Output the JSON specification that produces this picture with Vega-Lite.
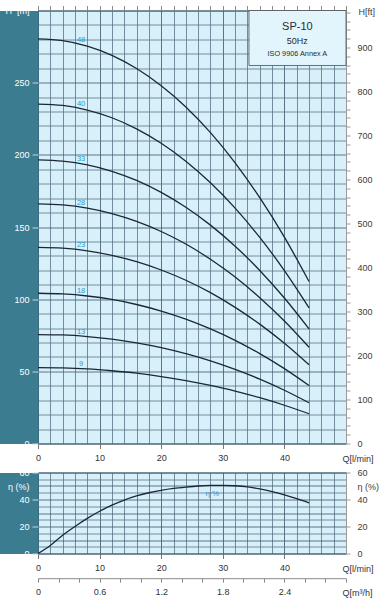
{
  "$schema": "https://vega.github.io/schema/vega-lite/v6.json",
  "background": "white",
  "padding": {"left": 4, "top": 4.5, "right": 0, "bottom": 0},
  "config": {
    "font": "Liberation Sans",
    "view": {"fill": "#d8f0fa", "stroke": "#4a6576", "strokeWidth": 1},
    "axis": {"labelFont": "Liberation Sans", "titleFont": "Liberation Sans", "labelFontSize": 9, "titleFontSize": 9, "titleFontWeight": "normal", "labelFlush": false, "labelOverlap": false}
  },
  "datasets": {
    "curves": [
      {"n":48,"Q":0,"H":280.3},{"n":48,"Q":4,"H":279.1},{"n":48,"Q":8,"H":275.3},{"n":48,"Q":12,"H":268.9},{"n":48,"Q":16,"H":259.8},{"n":48,"Q":20,"H":247.9},{"n":48,"Q":24,"H":233.2},{"n":48,"Q":28,"H":215.4},{"n":48,"Q":32,"H":194.5},{"n":48,"Q":36,"H":170.3},{"n":48,"Q":40,"H":143.0},{"n":48,"Q":44,"H":112.2},
      {"n":40,"Q":0,"H":235.2},{"n":40,"Q":4,"H":234.2},{"n":40,"Q":8,"H":231.0},{"n":40,"Q":12,"H":225.7},{"n":40,"Q":16,"H":218.0},{"n":40,"Q":20,"H":208.0},{"n":40,"Q":24,"H":195.6},{"n":40,"Q":28,"H":180.6},{"n":40,"Q":32,"H":163.1},{"n":40,"Q":36,"H":142.8},{"n":40,"Q":40,"H":119.8},{"n":40,"Q":44,"H":94.0},
      {"n":33,"Q":0,"H":196.5},{"n":33,"Q":4,"H":195.6},{"n":33,"Q":8,"H":193.0},{"n":33,"Q":12,"H":188.6},{"n":33,"Q":16,"H":182.3},{"n":33,"Q":20,"H":174.0},{"n":33,"Q":24,"H":163.7},{"n":33,"Q":28,"H":151.3},{"n":33,"Q":32,"H":136.7},{"n":33,"Q":36,"H":119.9},{"n":33,"Q":40,"H":100.8},{"n":33,"Q":44,"H":79.4},
      {"n":28,"Q":0,"H":166.0},{"n":28,"Q":4,"H":165.3},{"n":28,"Q":8,"H":163.1},{"n":28,"Q":12,"H":159.3},{"n":28,"Q":16,"H":153.9},{"n":28,"Q":20,"H":146.9},{"n":28,"Q":24,"H":138.2},{"n":28,"Q":28,"H":127.6},{"n":28,"Q":32,"H":115.3},{"n":28,"Q":36,"H":101.0},{"n":28,"Q":40,"H":84.9},{"n":28,"Q":44,"H":66.7},
      {"n":23,"Q":0,"H":135.9},{"n":23,"Q":4,"H":135.3},{"n":23,"Q":8,"H":133.5},{"n":23,"Q":12,"H":130.4},{"n":23,"Q":16,"H":126.0},{"n":23,"Q":20,"H":120.2},{"n":23,"Q":24,"H":113.1},{"n":23,"Q":28,"H":104.5},{"n":23,"Q":32,"H":94.3},{"n":23,"Q":36,"H":82.7},{"n":23,"Q":40,"H":69.4},{"n":23,"Q":44,"H":54.5},
      {"n":18,"Q":0,"H":104.1},{"n":18,"Q":4,"H":103.6},{"n":18,"Q":8,"H":102.2},{"n":18,"Q":12,"H":99.8},{"n":18,"Q":16,"H":96.3},{"n":18,"Q":20,"H":91.8},{"n":18,"Q":24,"H":86.2},{"n":18,"Q":28,"H":79.4},{"n":18,"Q":32,"H":71.5},{"n":18,"Q":36,"H":62.3},{"n":18,"Q":40,"H":51.9},{"n":18,"Q":44,"H":40.2},
      {"n":13,"Q":0,"H":75.5},{"n":13,"Q":4,"H":75.2},{"n":13,"Q":8,"H":74.1},{"n":13,"Q":12,"H":72.3},{"n":13,"Q":16,"H":69.7},{"n":13,"Q":20,"H":66.4},{"n":13,"Q":24,"H":62.2},{"n":13,"Q":28,"H":57.2},{"n":13,"Q":32,"H":51.3},{"n":13,"Q":36,"H":44.6},{"n":13,"Q":40,"H":36.9},{"n":13,"Q":44,"H":28.2},
      {"n":9,"Q":0,"H":52.6},{"n":9,"Q":4,"H":52.4},{"n":9,"Q":8,"H":51.7},{"n":9,"Q":12,"H":50.4},{"n":9,"Q":16,"H":48.7},{"n":9,"Q":20,"H":46.4},{"n":9,"Q":24,"H":43.6},{"n":9,"Q":28,"H":40.2},{"n":9,"Q":32,"H":36.3},{"n":9,"Q":36,"H":31.7},{"n":9,"Q":40,"H":26.5},{"n":9,"Q":44,"H":20.6}
    ],
    "labels": [
      {"n":"48","Q":7,"H":276.5},{"n":"40","Q":7,"H":232.0},{"n":"33","Q":7,"H":193.9},{"n":"28","Q":7,"H":163.8},
      {"n":"23","Q":7,"H":134.1},{"n":"18","Q":7,"H":102.7},{"n":"13","Q":7,"H":74.4},{"n":"9","Q":7,"H":51.9}
    ],
    "eta": [
      {"Q":0,"eta":0},{"Q":2,"eta":6},{"Q":4,"eta":13.5},{"Q":6,"eta":20},{"Q":8,"eta":26},{"Q":10,"eta":31.3},{"Q":12,"eta":35.8},{"Q":14,"eta":39.6},{"Q":16,"eta":42.6},{"Q":18,"eta":45.0},{"Q":20,"eta":46.8},{"Q":22,"eta":48.2},{"Q":24,"eta":49.2},{"Q":26,"eta":50.0},{"Q":28,"eta":50.4},{"Q":30,"eta":50.5},{"Q":32,"eta":50.2},{"Q":34,"eta":49.4},{"Q":36,"eta":47.8},{"Q":38,"eta":45.8},{"Q":40,"eta":43.4},{"Q":42,"eta":40.6},{"Q":44,"eta":37.5}
    ],
    "one": [{}]
  },
  "bounds": "flush",
  "spacing": 29,
  "vconcat": [
    {
      "width": 308,
      "height": 433,
      "resolve": {"scale": {"y": "independent"}, "axis": {"x": "independent", "y": "independent"}},
      "layer": [
        {
          "data": {"name": "curves"},
          "mark": {"type": "line", "interpolate": "monotone", "color": "#1a2738", "strokeWidth": 1.3},
          "encoding": {
            "x": {"field": "Q", "type": "quantitative", "scale": {"domain": [0, 50], "nice": false},
              "axis": {"orient": "top", "values": [0,2,4,6,8,10,12,14,16,18,20,22,24,26,28,30,32,34,36,38,40,42,44,46,48,50], "labels": false, "domain": false, "grid": false, "tickSize": 5, "tickColor": "#8c8c8c", "title": null}},
            "y": {"field": "H", "type": "quantitative", "scale": {"domain": [0, 300], "nice": false},
              "axis": {"orient": "left", "offset": 19.5, "domainWidth": 39, "domainColor": "#3b7c90", "ticks": false, "labels": false, "grid": false, "title": null}},
            "detail": {"field": "n", "type": "nominal"}
          }
        },
        {
          "data": {"name": "labels"},
          "mark": {"type": "text", "fontSize": 7.5, "color": "#2b9bd1", "align": "center", "baseline": "alphabetic", "dy": -2.5},
          "encoding": {
            "x": {"field": "Q", "type": "quantitative", "scale": {"domain": [0, 50], "nice": false},
              "axis": {"orient": "bottom", "values": [0,2,4,6,8,10,12,14,16,18,20,22,24,26,28,30,32,34,36,38,40,42,44,46,48,50],
                "grid": true, "gridColor": {"condition": {"test": "datum.value % 10 === 0", "value": "#3a5568"}, "value": "#587587"}, "gridWidth": 0.8,
                "domain": false, "tickSize": 5, "tickColor": "#777777",
                "tickOpacity": {"condition": {"test": "datum.value % 10 === 0 && datum.value < 50", "value": 1}, "value": 0},
                "labelExpr": "datum.value % 10 === 0 && datum.value < 50 ? datum.label : ''",
                "labelPadding": 5, "labelColor": "#333333",
                "title": "Q[l/min]", "titleX": 304, "titleY": 15, "titleAlign": "left", "titleBaseline": "middle", "titleColor": "#333333"}},
            "y": {"field": "H", "type": "quantitative", "scale": {"domain": [0, 300], "nice": false},
              "axis": {"orient": "left", "values": [0,10,20,30,40,50,60,70,80,90,100,110,120,130,140,150,160,170,180,190,200,210,220,230,240,250,260,270,280,290,300],
                "grid": true, "gridColor": {"condition": {"test": "datum.value % 50 === 0", "value": "#3a5568"}, "value": "#587587"}, "gridWidth": 0.8,
                "domain": false, "tickSize": 6, "tickColor": "#c8d4da",
                "tickOpacity": {"condition": {"test": "datum.value % 50 === 0 && datum.value < 300", "value": 1}, "value": 0},
                "labelExpr": "datum.value === 300 ? 'H\u00a0 [m]' : (datum.value % 50 === 0 ? datum.label : '')",
                "labelPadding": 3, "labelColor": "white", "title": null}},
            "text": {"field": "n", "type": "nominal"}
          }
        },
        {
          "data": {"name": "one"},
          "mark": {"type": "rect", "fill": "#e3f5fc", "stroke": "#4d4d4d", "strokeWidth": 0.8},
          "encoding": {
            "x": {"datum": 34.25, "type": "quantitative", "scale": {"domain": [0, 50], "nice": false}, "axis": null},
            "x2": {"datum": 50},
            "y": {"datum": 261.9, "type": "quantitative", "scale": {"domain": [0, 300], "nice": false}, "axis": null},
            "y2": {"datum": 300}
          }
        },
        {
          "data": {"name": "one"},
          "mark": {"type": "text", "text": "SP-10", "fontSize": 11, "color": "#2a2a2a", "align": "center", "baseline": "middle"},
          "encoding": {
            "x": {"datum": 42.1, "type": "quantitative", "scale": {"domain": [0, 50], "nice": false}, "axis": null},
            "y": {"datum": 288.9, "type": "quantitative", "scale": {"domain": [0, 300], "nice": false}, "axis": null}
          }
        },
        {
          "data": {"name": "one"},
          "mark": {"type": "text", "text": "50Hz", "fontSize": 9, "color": "#2a2a2a", "align": "center", "baseline": "middle"},
          "encoding": {
            "x": {"datum": 42.1, "type": "quantitative", "scale": {"domain": [0, 50], "nice": false}, "axis": null},
            "y": {"datum": 279.2, "type": "quantitative", "scale": {"domain": [0, 300], "nice": false}, "axis": null}
          }
        },
        {
          "data": {"name": "one"},
          "mark": {"type": "text", "text": "ISO 9906 Annex A", "fontSize": 7.3, "color": "#2a2a2a", "align": "center", "baseline": "middle"},
          "encoding": {
            "x": {"datum": 42.1, "type": "quantitative", "scale": {"domain": [0, 50], "nice": false}, "axis": null},
            "y": {"datum": 270.0, "type": "quantitative", "scale": {"domain": [0, 300], "nice": false}, "axis": null}
          }
        },
        {
          "data": {"name": "one"},
          "mark": {"type": "rule", "opacity": 0},
          "encoding": {
            "y": {"datum": 0, "type": "quantitative", "scale": {"domain": [0, 984.252], "nice": false},
              "axis": {"orient": "right", "values": [0,20,40,60,80,100,120,140,160,180,200,220,240,260,280,300,320,340,360,380,400,420,440,460,480,500,520,540,560,580,600,620,640,660,680,700,720,740,760,780,800,820,840,860,880,900,920,940,960,980],
                "grid": false, "domainColor": "#9a9a9a", "domainWidth": 1, "tickSize": 4, "tickColor": "#9a9a9a",
                "labelExpr": "datum.value % 100 === 0 ? datum.label : ''", "labelPadding": 7, "labelColor": "#3c3c3c",
                "title": "H[ft]", "titleAngle": 0, "titleX": 12, "titleY": 1, "titleAlign": "left", "titleBaseline": "middle", "titleColor": "#3c3c3c"}}
          }
        }
      ]
    },
    {
      "width": 308,
      "height": 81,
      "resolve": {"scale": {"x": "independent", "y": "independent"}, "axis": {"x": "independent", "y": "independent"}},
      "layer": [
        {
          "data": {"name": "eta"},
          "mark": {"type": "line", "interpolate": "monotone", "color": "#1a2738", "strokeWidth": 1.3},
          "encoding": {
            "x": {"field": "Q", "type": "quantitative", "scale": {"domain": [0, 50], "nice": false},
              "axis": {"orient": "bottom", "values": [0,2,4,6,8,10,12,14,16,18,20,22,24,26,28,30,32,34,36,38,40,42,44,46,48,50],
                "grid": true, "gridColor": {"condition": {"test": "datum.value % 10 === 0", "value": "#3a5568"}, "value": "#587587"}, "gridWidth": 0.8,
                "domain": false, "tickSize": 5, "tickColor": "#777777",
                "tickOpacity": {"condition": {"test": "datum.value % 10 === 0 && datum.value < 50", "value": 1}, "value": 0},
                "labelExpr": "datum.value % 10 === 0 && datum.value < 50 ? datum.label : ''",
                "labelPadding": 5, "labelColor": "#333333",
                "title": "Q[l/min]", "titleX": 304, "titleY": 15, "titleAlign": "left", "titleBaseline": "middle", "titleColor": "#333333"}},
            "y": {"field": "eta", "type": "quantitative", "scale": {"domain": [0, 60], "nice": false},
              "axis": {"orient": "left", "offset": 19.5, "domainWidth": 39, "domainColor": "#3b7c90", "ticks": false, "labels": false, "grid": false, "title": null}}
          }
        },
        {
          "data": {"name": "one"},
          "mark": {"type": "text", "text": "η %", "fontSize": 8, "color": "#2b9bd1", "align": "center", "baseline": "middle"},
          "encoding": {
            "x": {"datum": 28.3, "type": "quantitative", "scale": {"domain": [0, 50], "nice": false}, "axis": null},
            "y": {"datum": 44.4, "type": "quantitative", "scale": {"domain": [0, 60], "nice": false},
              "axis": {"orient": "left", "values": [0,5,10,15,20,25,30,35,40,45,50,55,60],
                "grid": true, "gridColor": {"condition": {"test": "datum.value % 10 === 0", "value": "#3a5568"}, "value": "#587587"}, "gridWidth": 0.8,
                "domain": false, "tickSize": 6, "tickColor": "#c8d4da",
                "tickOpacity": {"condition": {"test": "datum.value % 20 === 0", "value": 1}, "value": 0},
                "labelExpr": "datum.value === 50 ? 'η (%)' : (datum.value % 20 === 0 ? datum.label : '')",
                "labelPadding": 3, "labelColor": "white", "title": null}}
          }
        },
        {
          "data": {"name": "one"},
          "mark": {"type": "rule", "opacity": 0},
          "encoding": {
            "y": {"datum": 0, "type": "quantitative", "scale": {"domain": [0, 60], "nice": false},
              "axis": {"orient": "right", "values": [0,20,40,50,60], "grid": false, "domainColor": "#9a9a9a", "domainWidth": 1, "tickSize": 4, "tickColor": "#9a9a9a",
                "tickOpacity": {"condition": {"test": "datum.value === 50", "value": 0}, "value": 1},
                "labelExpr": "datum.value === 50 ? 'η (%)' : datum.label", "labelPadding": 7, "labelColor": "#3c3c3c", "title": null}}
          }
        },
        {
          "data": {"name": "one"},
          "mark": {"type": "rule", "opacity": 0},
          "encoding": {
            "x": {"datum": 0, "type": "quantitative", "scale": {"domain": [0, 3], "nice": false},
              "axis": {"orient": "bottom", "offset": 24.7, "values": [0,0.2,0.4,0.6,0.8,1,1.2,1.4,1.6,1.8,2,2.2,2.4,2.6,2.8,3],
                "grid": false, "domainColor": "#8a8a8a", "domainWidth": 1, "tickSize": 4, "tickColor": "#8a8a8a",
                "labelExpr": "round(datum.value * 10) % 6 === 0 && datum.value < 2.9 ? format(datum.value, '.1~f') : ''",
                "labelPadding": 5, "labelColor": "#333333",
                "title": "Q[m³/h]", "titleX": 304, "titleY": 14.3, "titleAlign": "left", "titleBaseline": "middle", "titleColor": "#333333"}}
          }
        }
      ]
    }
  ]
}
